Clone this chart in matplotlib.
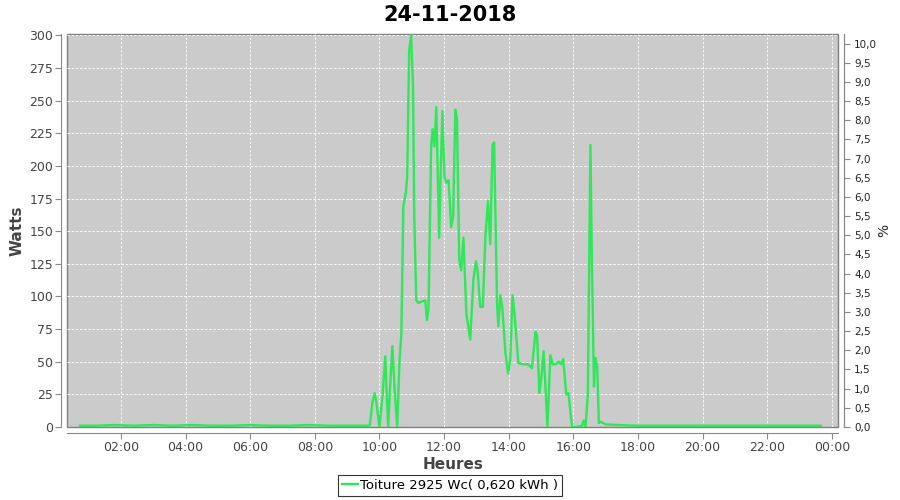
import matplotlib
matplotlib.use("Agg")
import matplotlib.pyplot as plt

# heures décimales / puissance (W)
heures = [0.73, 1.2, 1.8, 2.4, 3.0, 3.6, 4.2, 4.8, 5.4, 6.0, 6.6, 7.2, 7.8, 8.4, 9.0, 9.5, 9.7,
          9.78, 9.85, 9.9, 10.0, 10.1, 10.18, 10.27, 10.33, 10.40, 10.48, 10.55, 10.62, 10.68,
          10.74, 10.82, 10.86, 10.92, 10.98, 11.04, 11.08, 11.14, 11.2, 11.3, 11.42, 11.47, 11.52,
          11.60, 11.64, 11.70, 11.76, 11.80, 11.85, 11.90, 11.95, 12.01, 12.07, 12.14, 12.22, 12.28,
          12.35, 12.40, 12.47, 12.53, 12.60, 12.69, 12.81, 12.91, 12.99, 13.04, 13.12, 13.20, 13.28,
          13.36, 13.43, 13.50, 13.55, 13.64, 13.68, 13.74, 13.80, 13.90, 13.98, 14.05, 14.12, 14.18,
          14.30, 14.45, 14.60, 14.72, 14.83, 14.88, 14.95, 15.02, 15.08, 15.14, 15.20, 15.29, 15.36,
          15.45, 15.55, 15.62, 15.69, 15.78, 15.85, 15.96, 16.1, 16.27, 16.32, 16.38, 16.45, 16.53,
          16.58, 16.64, 16.68, 16.74, 16.79, 16.85, 17.0, 17.4, 18.0, 19.0, 20.0, 21.0, 22.0, 23.0, 23.66]
watts = [1, 1, 1.5, 1, 1.5, 1, 1.5, 1, 1, 1.5, 1, 1, 1.5, 1, 1, 1, 1,
         18, 26, 20, 0, 25, 54, 0, 30, 62, 25, 0, 50, 72,
         169, 180, 192, 288, 300, 261, 159, 97, 95, 96, 97, 82, 90,
         215, 228, 215, 245, 200, 145, 200, 242, 192, 187, 189, 153, 161,
         243, 236, 128, 120, 145, 87, 67, 113, 127, 119, 92, 92, 146,
         173, 140, 216, 218, 95, 77, 101, 92, 57, 41, 52, 101, 87,
         49, 48, 48, 45, 73, 70, 26, 40, 58, 30, 0, 55, 48,
         48, 50, 48, 52, 25, 26, 0, 0, 1, 5, 0, 25, 216,
         120, 31, 53, 47, 3, 4, 2, 1.5, 1, 1, 1, 1, 1, 1, 1]

ticks = [2, 4, 6, 8, 10, 12, 14, 16, 18, 20, 22, 24]
tick_labels = ["02:00", "04:00", "06:00", "08:00", "10:00", "12:00",
               "14:00", "16:00", "18:00", "20:00", "22:00", "00:00"]
pct_ticks = [i * 0.5 for i in range(21)]

fig = plt.figure(figsize=(9, 5), dpi=100)
ax = fig.add_axes([0.0744, 0.146, 0.857, 0.786])
ax.set_facecolor("#cbcbcb")

ax.plot(heures, watts, color="#2ee85a", lw=1.7, label="Toiture 2925 Wc( 0,620 kWh )")

ax.set_xlim(0.33, 24.2)
ax.set_ylim(0, 301)
ax.set_yticks(range(0, 301, 25))
ax.set_xticks(ticks)
ax.set_xticklabels(tick_labels)
ax.grid(True, color="white", ls=(0, (3, 2)), lw=0.6)

for s in ["left", "bottom", "right"]:
    ax.spines[s].set_position(("outward", 4))
ax.spines["top"].set_visible(False)
for s in ax.spines.values():
    s.set_color("#888888")
ax.tick_params(colors="#444444", labelsize=9, length=4, width=0.8, color="#888888", pad=2)

# cadre autour de la zone de tracé
ax.add_patch(plt.Rectangle((0, 0), 1, 1, transform=ax.transAxes, fill=False,
                           ec="#808080", lw=1, clip_on=False))

ax.set_xlabel("Heures", fontsize=11, fontweight="bold", color="#444444", labelpad=2)
ax.set_ylabel("Watts", fontsize=11, fontweight="bold", color="#444444", labelpad=3)

ax2 = ax.twinx()
ax2.set_ylim(0, 10.25)
ax2.set_yticks(pct_ticks)
ax2.set_yticklabels([f"{v:.1f}".replace(".", ",") for v in pct_ticks])
ax2.spines["right"].set_position(("outward", 4))
for s in ["top", "left", "bottom"]:
    ax2.spines[s].set_visible(False)
ax2.spines["right"].set_color("#888888")
ax2.tick_params(labelsize=7.5, length=4, width=0.8, color="#888888", labelcolor="#222222")
ax2.set_ylabel("%", fontsize=10, color="#222222", labelpad=0)

fig.suptitle("24-11-2018", fontsize=15, fontweight="bold", y=0.99)

leg = fig.legend(loc="lower center", bbox_to_anchor=(0.5, 0.0), fontsize=9.5,
                 frameon=True, fancybox=False, handlelength=1.2, handletextpad=0.2,
                 borderpad=0.3, borderaxespad=0.3)
leg.get_frame().set_edgecolor("black")
leg.get_frame().set_linewidth(0.8)

fig.savefig("out.png", dpi=100)
